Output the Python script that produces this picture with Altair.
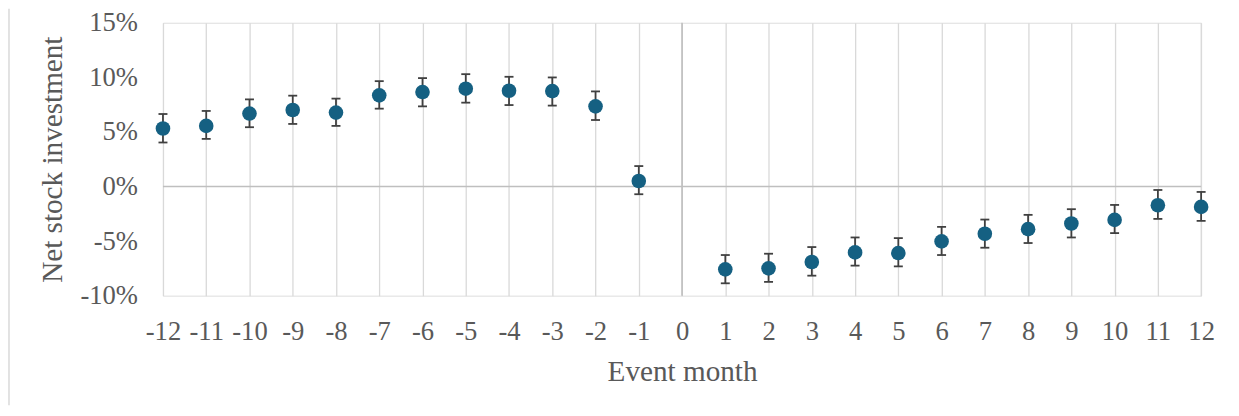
import altair as alt
import pandas as pd

# Event months (0 has no estimate)
months = [-12, -11, -10, -9, -8, -7, -6, -5, -4, -3, -2, -1,
          1, 2, 3, 4, 5, 6, 7, 8, 9, 10, 11, 12]
# Point estimates (%)
values = [5.31, 5.55, 6.68, 7.01, 6.77, 8.35, 8.65, 8.96, 8.77, 8.74, 7.34, 0.50,
          -7.59, -7.50, -6.92, -6.04, -6.10, -5.03, -4.33, -3.91, -3.39, -3.06, -1.72, -1.87]
# Confidence interval bounds (%)
lower = [4.03, 4.36, 5.43, 5.73, 5.55, 7.13, 7.34, 7.68, 7.46, 7.41, 6.09, -0.71,
         -8.87, -8.74, -8.17, -7.25, -7.32, -6.28, -5.61, -5.18, -4.67, -4.27, -2.97, -3.15]
upper = [6.64, 6.92, 7.98, 8.32, 8.05, 9.65, 9.93, 10.29, 10.05, 9.99, 8.71, 1.87,
         -6.28, -6.16, -5.55, -4.67, -4.73, -3.70, -3.03, -2.60, -2.08, -1.69, -0.32, -0.50]
x_ticks = list(range(-12, 13))
y_ticks = [-10, -5, 0, 5, 10, 15]

df = pd.DataFrame({"month": months, "value": values, "lo": lower, "hi": upper})

W, H = 1042.4, 274
FONT = "Liberation Serif"
TXT = "#595959"
ERR = "#404040"

xscale = alt.Scale(domain=[-12, 12], nice=False, zero=False)
yscale = alt.Scale(domain=[-10, 15], nice=False, zero=False)

xaxis = alt.Axis(
    values=x_ticks, title="Event month", grid=True, gridColor="#d9d9d9", gridWidth=1.3,
    domain=False, ticks=False, tickSize=0, labelPadding=44, labelBaseline="alphabetic",
    labelExpr="'' + datum.value", labelFont=FONT, labelFontSize=26.7, labelColor=TXT,
    labelFlush=False, labelOverlap=False,
    titleFont=FONT, titleFontSize=29.3, titleColor=TXT, titleFontWeight="normal",
    titleX=W / 2, titleY=85.7, titleBaseline="alphabetic", titleAlign="center",
)
yaxis = alt.Axis(
    values=y_ticks, title="Net stock investment", grid=False,
    domain=False, ticks=False, tickSize=0, labelPadding=25.6,
    labelExpr="datum.value + '%'", labelFont=FONT, labelFontSize=26.7, labelColor=TXT,
    labelFlush=False, labelOverlap=False,
    titleFont=FONT, titleFontSize=29.3, titleColor=TXT, titleFontWeight="normal",
    titleX=-101.6, titleY=H / 2, titleBaseline="alphabetic", titleAlign="center", titleAngle=270,
)

base = alt.Chart(df)

points = base.mark_point(filled=True, size=215, color="#156082", opacity=1, shape="circle").encode(
    x=alt.X("month:Q", scale=xscale, axis=xaxis),
    y=alt.Y("value:Q", scale=yscale, axis=yaxis),
)

bars = base.mark_rule(color=ERR, strokeWidth=1.8).encode(
    x="month:Q", y="lo:Q", y2="hi:Q"
)
cap_lo = base.mark_tick(orient="horizontal", size=9, thickness=1.8, color=ERR, opacity=1).encode(
    x="month:Q", y="lo:Q"
)
cap_hi = base.mark_tick(orient="horizontal", size=9, thickness=1.8, color=ERR, opacity=1).encode(
    x="month:Q", y="hi:Q"
)

zero_h = alt.Chart(pd.DataFrame({"v": [0]})).mark_rule(color="#bfbfbf", strokeWidth=1.6).encode(
    y=alt.Y("v:Q", scale=yscale)
)
zero_v = alt.Chart(pd.DataFrame({"m": [0]})).mark_rule(color="#bfbfbf", strokeWidth=1.6).encode(
    x=alt.X("m:Q", scale=xscale)
)
# chart-area outline on the left edge
border = alt.Chart(pd.DataFrame({"m": [0]})).mark_rule(color="#d9d9d9", strokeWidth=1.5).encode(
    x=alt.value(-154.6), y=alt.value(-14), y2=alt.value(H + 110)
)

chart = alt.layer(border, zero_v, zero_h, bars, cap_lo, cap_hi, points).properties(
    width=W, height=H,
    padding={"left": 155.6, "top": 14, "right": 30, "bottom": 110},
    autosize=alt.AutoSizeParams(type="none"),
).configure_view(stroke=None).configure(background="white")

chart.save("out.html", embed_options={"renderer": "svg", "actions": False})
